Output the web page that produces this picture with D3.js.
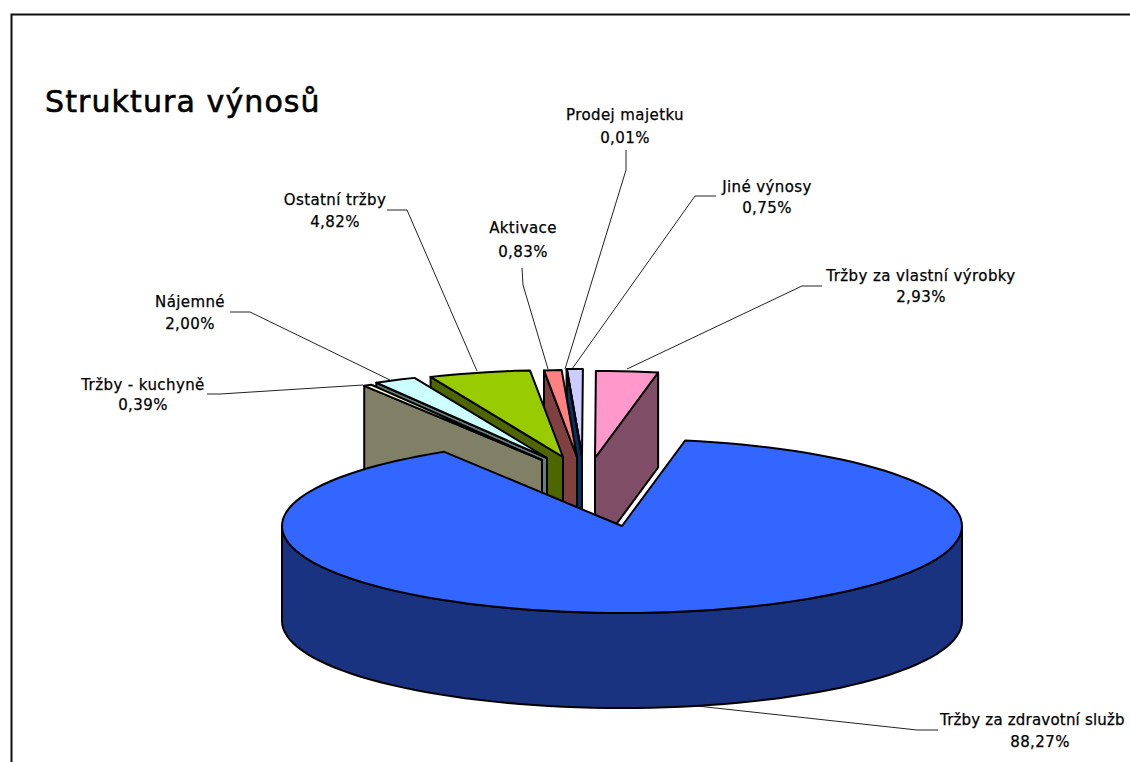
<!DOCTYPE html>
<html><head><meta charset="utf-8">
<script src="https://cdn.jsdelivr.net/npm/d3@7"></script>
<style>html,body{margin:0;padding:0;background:#fff;overflow:hidden}svg{display:block}</style>
</head><body><svg id="c" width="1130" height="762"></svg>
<script>
const categories = ["Tržby za zdravotní služb","Tržby - kuchyně","Nájemné","Ostatní tržby","Aktivace","Prodej majetku","Jiné výnosy","Tržby za vlastní výrobky"];
const shares = [88.27,0.39,2.00,4.82,0.83,0.01,0.75,2.93];
const colors = ["#3366ff","#ffffcc","#ccffff","#99cc00","#ff8080","#0066cc","#ccccff","#ff99cc"];
const explode = [[0,0],[-80,-66],[-75,-68],[-59,-69],[-45,-69],[-40,-69.5],[-40,-70],[-27,-68]];
const labelAt = [[1040,725,747],[143,390,410],[190,307,329],[335,205,227],[523,233,257],[625,120,143],[767,192,213],[921,281,302]];
const leaders = [
 [[938,730],[917,730],[697,706]],
 [[207,394],[220,394],[363,385]],
 [[230,312],[250,312],[390,380]],
 [[387,210],[407,210],[477,371]],
 [[522,268],[523,285],[548,369]],
 [[626,150],[626,170],[565,369]],
 [[716,196],[695,196],[572,369]],
 [[822,286],[802,286],[627,369]]
];
const chartTitle = "Struktura výnosů";

const cx=622, cy=526, rx=340, ry=87, depth=95;
const svg=d3.select("#c");
const deg=Math.PI/180;
const start=10.7*deg;
const pie=d3.pie().sort(null).startAngle(start).endAngle(start+2*Math.PI);
const arcs=pie(shares);
const line=d3.line();
const P=(a,o=[0,0],z=0)=>[cx+o[0]+rx*Math.sin(a), cy+o[1]-ry*Math.cos(a)+z];
const rim=(a0,a1,o,z=0)=>{const n=Math.max(1,Math.ceil((a1-a0)/(2.5*deg)));return d3.range(n+1).map(i=>P(a0+(a1-a0)*i/n,o,z));};
const wrap=a=>{while(a>Math.PI)a-=2*Math.PI;while(a<-Math.PI)a+=2*Math.PI;return a;};
const face=(pts,fill)=>svg.append("path").attr("d",line(pts)+"Z").attr("fill",fill).attr("stroke","#000").attr("stroke-width",2).attr("stroke-linejoin","round");
const dark=c=>{const r=d3.rgb(c);return d3.rgb(r.r/2,r.g/2,r.b/2).formatHex();};

// frame
svg.append("path").attr("d","M11.5,762V14.5H1130").attr("fill","none").attr("stroke","#111").attr("stroke-width",2);

// leader lines
leaders.forEach(l=>svg.append("path").attr("d",line(l)).attr("fill","none").attr("stroke","#222").attr("stroke-width",1));

// exploded slices, painted from the far side forward
for(let i=arcs.length-1;i>=1;i--){
  const d=arcs[i],o=explode[i],c=colors[i];
  const mid=wrap((d.startAngle+d.endAngle)/2);
  const apex=[cx+o[0],cy+o[1]];
  const edge=P(mid>0?d.endAngle:d.startAngle,o);
  face([apex,edge,[edge[0],edge[1]+depth],[apex[0],apex[1]+depth]],dark(c));
  face([apex,...rim(d.startAngle,d.endAngle,o)],c);
}
// main slice
const m=arcs[0];
const upperRim=rim(Math.PI/2,3*Math.PI/2,[0,0]);
const lowerRim=rim(Math.PI/2,3*Math.PI/2,[0,0],depth).reverse();
face([...upperRim,...lowerRim],dark(colors[0]));
face([[cx,cy],...rim(m.startAngle,m.endAngle,[0,0])],colors[0]);

// labels
const font='"DejaVu Sans",sans-serif';
svg.append("text").attr("x",45).attr("y",112).attr("font-family",font).attr("font-size",30).attr("letter-spacing",1.1).attr("stroke","#000").attr("stroke-width",0.6).attr("fill","#000").text(chartTitle);
const label=(x,y,anchor,s,ls)=>svg.append("text").attr("x",x).attr("y",y).attr("text-anchor",anchor).attr("font-family",font).attr("font-size",15).attr("letter-spacing",ls).attr("stroke","#000").attr("stroke-width",0.25).attr("fill","#000").text(s);
categories.forEach((n,i)=>{
  const a=labelAt[i];
  if(i===0) label(940,a[1],"start",n,0.2);
  else label(a[0],a[1],"middle",n,0.4);
  label(a[0],a[2],"middle",shares[i].toFixed(2).replace(".",",")+"%",0.4);
});
</script></body></html>
